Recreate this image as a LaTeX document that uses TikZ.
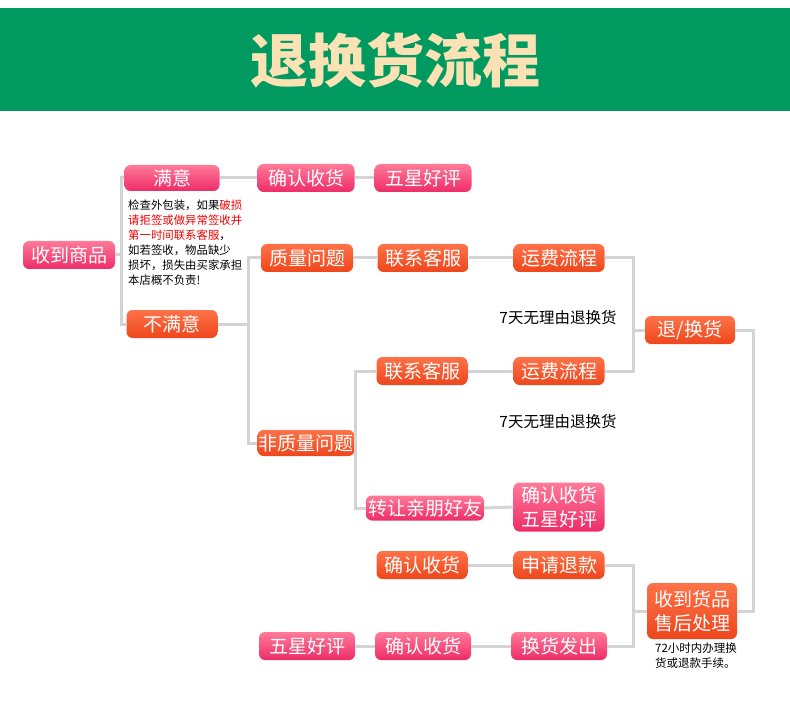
\documentclass[tikz,border=0pt]{standalone}
\usepackage{fontspec}
\usepackage{xcolor}
\usepackage{tikz}
\setmainfont{Noto Sans CJK SC}

\definecolor{bannergreen}{HTML}{009A60}
\definecolor{titlecream}{HTML}{FBE2B4}
\definecolor{pinktop}{HTML}{FF7A98}
\definecolor{pinkbot}{HTML}{EE2C68}
\definecolor{orangetop}{HTML}{FF7248}
\definecolor{orangebot}{HTML}{EE461C}
\definecolor{linkgray}{HTML}{D4D4D4}
\definecolor{notered}{HTML}{F00000}

\tikzset{
  pinkbox/.style={rounded corners=6pt, top color=pinktop, bottom color=pinkbot,
    text=white, inner sep=0pt, minimum width=92pt, minimum height=28pt,
    align=center, font=\fontsize{19}{24}\selectfont},
  orangebox/.style={pinkbox, top color=orangetop, bottom color=orangebot},
  link/.style={linkgray, line width=3pt},
  notetext/.style={align=left, inner sep=0pt, text=black}
}

\begin{document}
\begin{tikzpicture}[x=1pt,y=-1pt]
                    \useasboundingbox (0,0) rectangle (790,714);
                    % Draw title banner
                    \fill[bannergreen] (0,8) rectangle (790,111);
                    \node[text=titlecream, font=\fontsize{58}{60}\selectfont\bfseries] (title) at (395,60) {退换货流程};

                    % Draw first column
                    \node[pinkbox] (recv) at (69,255) {收到商品};
                    \node[pinkbox, minimum width=95pt, minimum height=26pt] (ok) at (172,178) {满意};
                    \node[orangebox, minimum width=91pt] (notok) at (172,324) {不满意};
                    \node[notetext, anchor=north west, font=\fontsize{11.4}{15}\selectfont] (note) at (128,200)
                      {检查外包装，如果\textcolor{notered}{破损}\\
                       \textcolor{notered}{请拒签或做异常签收并}\\
                       \textcolor{notered}{第一时间联系客服}，\\
                       如若签收，物品缺少\\
                       损坏，损失由买家承担\\
                       本店概不负责!};

                    % Draw satisfied branch
                    \node[pinkbox, minimum width=97pt] (confirmA) at (306,178) {确认收货};
                    \node[pinkbox, minimum width=97pt] (starA) at (423,178) {五星好评};

                    % Draw quality branch
                    \node[orangebox] (quality) at (307,258) {质量问题};
                    \node[orangebox, minimum width=91pt] (contactA) at (423,258) {联系客服};
                    \node[orangebox, minimum width=91pt] (freightA) at (559,258) {运费流程};
                    \node[notetext, font=\fontsize{15.5}{18}\selectfont] (sevenA) at (558,318) {7天无理由退换货};
                    \node[orangebox, minimum width=90pt] (swap) at (690,330) {退/换货};

                    % Draw non-quality branch
                    \node[orangebox, minimum width=97pt, minimum height=26pt] (nonq) at (306,443) {非质量问题};
                    \node[orangebox, minimum width=91pt] (contactB) at (422,371) {联系客服};
                    \node[orangebox, minimum width=91pt] (freightB) at (559,371) {运费流程};
                    \node[notetext, font=\fontsize{15.5}{18}\selectfont] (sevenB) at (558,422) {7天无理由退换货};
                    \node[pinkbox, minimum width=118pt, minimum height=25pt] (transfer) at (425,508) {转让亲朋好友};
                    \node[pinkbox, minimum width=91pt, minimum height=49pt] (confirmB) at (559,507) {确认收货\\五星好评};

                    % Draw after-sale part
                    \node[orangebox, minimum width=91pt] (confirmC) at (422,565) {确认收货};
                    \node[orangebox, minimum width=91pt] (refund) at (559,565) {申请退款};
                    \node[pinkbox, minimum width=96pt] (starB) at (307,646) {五星好评};
                    \node[pinkbox, minimum width=96pt] (confirmD) at (423,646) {确认收货};
                    \node[pinkbox, minimum width=96pt] (ship) at (559,646) {换货发出};
                    \node[orangebox, minimum width=90pt, minimum height=56pt] (aftersale) at (692,611) {收到货品\\售后处理};
                    \node[notetext, anchor=north west, font=\fontsize{11.5}{15}\selectfont] (note2) at (655,643)
                      {72小时内办理换\\货或退款手续。};

                    % Draw junctions
                    \coordinate (jA) at (121,255);
                    \coordinate (jB) at (248,324);
                    \coordinate (jC) at (633,330);
                    \coordinate (jD) at (753,611);
                    \coordinate (jE) at (355,443);
                    \coordinate (jF) at (633,611);

                    % Draw connectors
                    \draw[link] (recv.east) -- (jA);
                    \draw[link] (ok.west) -| (jA) |- (notok.west);
                    \draw[link] (ok.east) -- (confirmA.west);
                    \draw[link] (confirmA.east) -- (starA.west);
                    \draw[link] (notok.east) -- (jB);
                    \draw[link] (quality.west) -| (jB) |- (nonq.west);
                    \draw[link] (quality.east) -- (contactA.west);
                    \draw[link] (contactA.east) -- (freightA.west);
                    \draw[link] (freightA.east) -| (jC) |- (freightB.east);
                    \draw[link] (jC) -- (swap.west);
                    \draw[link] (swap.east) -| (jD) -- (aftersale.east);
                    \draw[link] (contactB.west) -| (jE) |- (transfer.west);
                    \draw[link] (contactB.east) -- (freightB.west);
                    \draw[link] (transfer.east) -- (confirmB.west);
                    \draw[link] (confirmC.east) -- (refund.west);
                    \draw[link] (refund.east) -| (jF) |- (ship.east);
                    \draw[link] (jF) -- (aftersale.west);
                    \draw[link] (starB.east) -- (confirmD.west);
                    \draw[link] (confirmD.east) -- (ship.west);
                \end{tikzpicture}
\end{document}
